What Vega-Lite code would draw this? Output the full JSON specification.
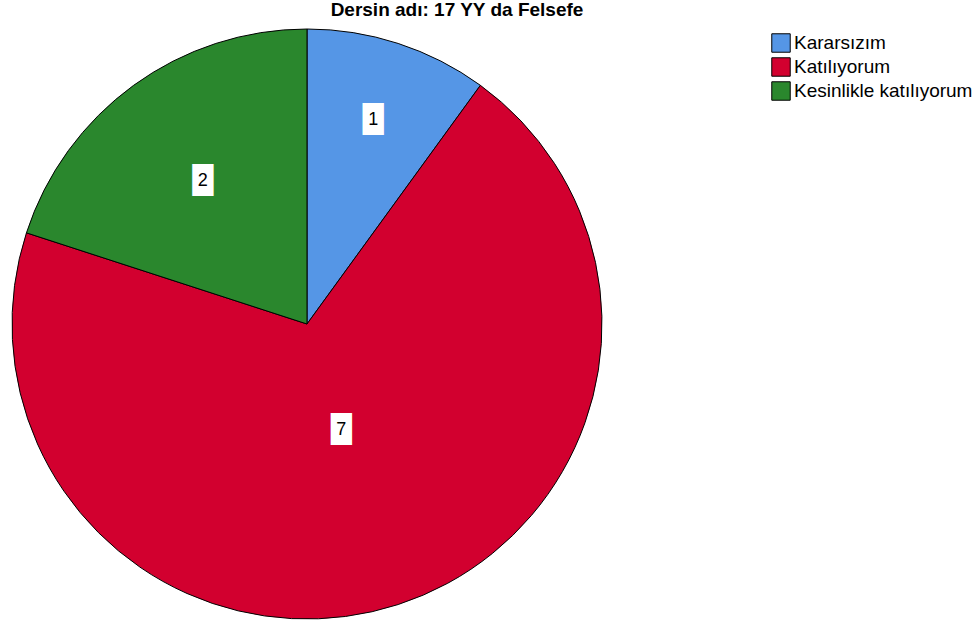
{
  "$schema": "https://vega.github.io/schema/vega-lite/v6.json",
  "autosize": "none",
  "padding": {"left": 0, "top": 29, "right": 366, "bottom": 3},
  "width": 614,
  "height": 590,
  "background": "white",
  "title": {
    "text": "Dersin adı: 17 YY da Felsefe",
    "font": "Liberation Sans",
    "fontSize": 19,
    "fontWeight": "bold",
    "color": "black",
    "anchor": "middle",
    "dx": 150,
    "offset": 7
  },
  "data": {
    "values": [
      {"cevap": "Kararsızım", "sayi": 1, "k": 1},
      {"cevap": "Katılıyorum", "sayi": 7, "k": 2},
      {"cevap": "Kesinlikle katılıyorum", "sayi": 2, "k": 3}
    ]
  },
  "encoding": {
    "theta": {"field": "sayi", "type": "quantitative", "stack": true},
    "order": {"field": "k", "type": "quantitative"}
  },
  "layer": [
    {
      "mark": {"type": "arc", "stroke": "black", "strokeWidth": 1},
      "encoding": {
        "color": {
          "field": "cevap",
          "type": "nominal",
          "scale": {
            "domain": ["Kararsızım", "Katılıyorum", "Kesinlikle katılıyorum"],
            "range": ["#5596E6", "#D2002F", "#2A872D"]
          },
          "legend": {
            "title": null,
            "orient": "none",
            "legendX": 771,
            "legendY": 4,
            "symbolType": "square",
            "symbolSize": 340,
            "symbolStrokeColor": "black",
            "symbolStrokeWidth": 1,
            "symbolOpacity": 1,
            "labelFont": "Liberation Sans",
            "labelFontSize": 19,
            "labelColor": "black",
            "labelOffset": 3,
            "rowPadding": 0,
            "labelLimit": 300
          }
        }
      }
    },
    {
      "mark": {"type": "text", "font": "DejaVu Sans", "fontSize": 27, "color": "white", "baseline": "middle", "align": "center"},
      "encoding": {
        "text": {"value": "█"},
        "radius": {"field": "sayi", "type": "quantitative", "scale": {"type": "log", "domain": [1, 7], "range": [214, 111]}, "legend": null}
      }
    },
    {
      "mark": {"type": "text", "font": "Liberation Sans", "fontSize": 18, "color": "black", "baseline": "middle", "align": "center"},
      "encoding": {
        "text": {"field": "sayi", "type": "quantitative"},
        "radius": {"field": "sayi", "type": "quantitative", "scale": {"type": "log", "domain": [1, 7], "range": [214, 111]}, "legend": null}
      }
    }
  ]
}
